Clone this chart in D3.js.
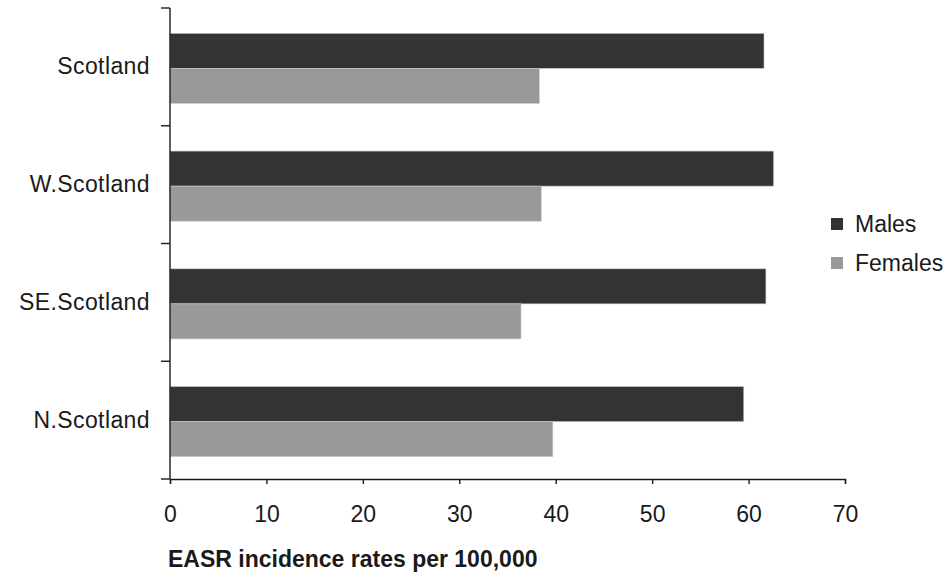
<!DOCTYPE html>
<html>
<head>
<meta charset="utf-8">
<script src="https://cdn.jsdelivr.net/npm/d3@7"></script>
<style>
  html, body { margin: 0; padding: 0; background: #fff; }
  svg { display: block; }
  text { font-family: "Liberation Sans", Arial, sans-serif; fill: #1a1a1a; }
</style>
</head>
<body>
<svg id="chart" width="951" height="575"></svg>
<script>
const categories = ["Scotland", "W.Scotland", "SE.Scotland", "N.Scotland"];
const seriesNames = ["Males", "Females"];
const males = [61.6, 62.6, 61.8, 59.5];
const females = [38.3, 38.5, 36.4, 39.7];
const xTicks = [0, 10, 20, 30, 40, 50, 60, 70];
const axisTitle = "EASR incidence rates per 100,000";
const colors = ["#333333", "#999999"];

const svg = d3.select("#chart");
const mLeft = 170, mRight = 845, mTop = 8, mBottom = 479;

const x = d3.scaleLinear().domain([0, 70]).range([mLeft, mRight]);
const y0 = d3.scaleBand().domain(categories).range([mTop, mBottom]).padding(0);
const y1 = d3.scaleBand().domain(seriesNames).range([0, y0.bandwidth()])
  .paddingInner(0).paddingOuter(0.68);

const data = categories.map((c, i) => ({ cat: c, vals: [males[i], females[i]] }));

// bars
const g = svg.append("g");
const groups = g.selectAll("g.cat").data(data).join("g")
  .attr("transform", d => `translate(0,${y0(d.cat) + 1.5})`);
groups.selectAll("rect").data(d => d.vals.map((v, j) => ({ s: seriesNames[j], v, j })))
  .join("rect")
  .attr("x", x(0))
  .attr("y", d => y1(d.s))
  .attr("width", d => x(d.v) - x(0))
  .attr("height", y1.bandwidth())
  .attr("fill", d => colors[d.j])
  .attr("stroke", "#c8c8c8")
  .attr("stroke-width", 0.6);

// x axis
const xAxis = svg.append("g").attr("transform", `translate(0,${mBottom})`)
  .call(d3.axisBottom(x).tickValues(xTicks).tickSize(5).tickSizeOuter(5).tickPadding(22));
xAxis.select(".domain").attr("stroke", "#1a1a1a").attr("stroke-width", 1.4);
xAxis.selectAll(".tick line").attr("stroke", "#1a1a1a").attr("stroke-width", 1.4);
xAxis.selectAll(".tick text")
  .style("font-size", "23px")
  .attr("fill", "#1a1a1a").attr("font-family", "Liberation Sans, Arial, sans-serif");

// y axis line + boundary ticks
const boundaries = categories.map(c => y0(c)).concat([mBottom]);
svg.append("line").attr("x1", mLeft).attr("x2", mLeft).attr("y1", mTop).attr("y2", mBottom)
  .attr("stroke", "#1a1a1a").attr("stroke-width", 1.4);
svg.selectAll("line.ytick").data(boundaries).join("line").attr("class", "ytick")
  .attr("x1", mLeft - 9).attr("x2", mLeft).attr("y1", d => d).attr("y2", d => d)
  .attr("stroke", "#1a1a1a").attr("stroke-width", 1.4);

// y labels
const yAxis = svg.append("g").attr("transform", `translate(${mLeft},0)`)
  .call(d3.axisLeft(y0).tickSize(0).tickPadding(20));
yAxis.select(".domain").remove();
yAxis.selectAll(".tick text")
  .style("font-size", "23px").style("letter-spacing", "0.4px")
  .attr("fill", "#1a1a1a").attr("font-family", "Liberation Sans, Arial, sans-serif");

// axis title
svg.append("text").attr("x", 168).attr("y", 567)
  .style("font-size", "23px").style("font-weight", "bold")
  .attr("fill", "#000")
  .text(axisTitle);

// legend
const legend = svg.append("g");
const ly = [224, 263];
seriesNames.forEach((s, i) => {
  legend.append("rect").attr("x", 831).attr("y", ly[i] - 6).attr("width", 12).attr("height", 12)
    .attr("fill", colors[i]);
  legend.append("text").attr("x", 855).attr("y", ly[i]).attr("dy", "0.35em")
    .style("font-size", "23px")
    .text(s);
});
</script>
</body>
</html>
